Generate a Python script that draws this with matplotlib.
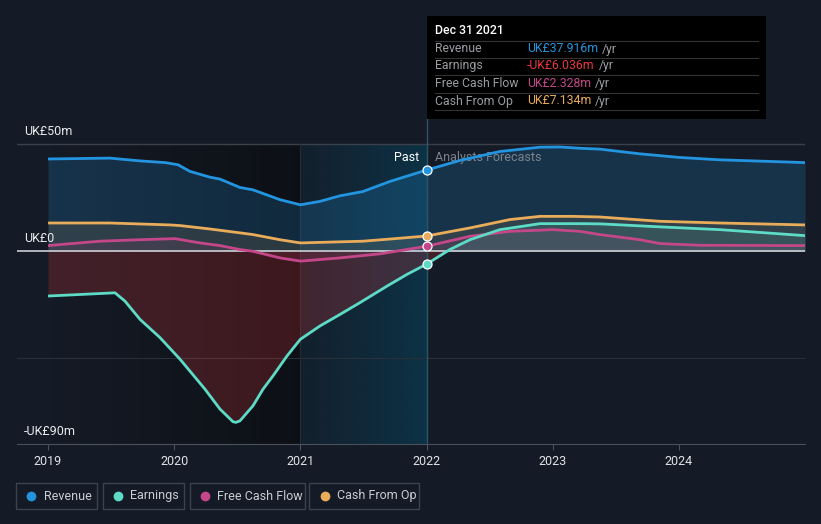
"""Revenue, earnings and cash flow history with analyst forecasts."""

import matplotlib
matplotlib.use('Agg')
from matplotlib import pyplot
from matplotlib.patches import Rectangle
from matplotlib.lines import Line2D
import numpy

# Values (GBP millions).
rev_years = [2019.0, 2019.49, 2019.73, 2019.93, 2020.03, 2020.125, 2020.284, 2020.363,
             2020.521, 2020.624, 2020.838, 2021.0, 2021.155, 2021.314, 2021.496, 2021.71,
             2022.0, 2022.265, 2022.582, 2022.899, 2023.057, 2023.216, 2023.374, 2023.532,
             2023.691, 2024.008, 2024.325, 2024.642, 2025.0]
revenue = [43.1, 43.5, 42.2, 41.4, 40.4, 37.3, 34.6, 33.7,
           29.8, 28.7, 24.1, 21.7, 23.3, 25.9, 27.9, 32.6,
           37.916, 42.4, 46.6, 48.6, 48.7, 48.1, 47.7, 46.6,
           45.5, 43.8, 42.7, 42.1, 41.4]

earn_years = [2019.0, 2019.531, 2019.61, 2019.729, 2019.887, 2020.046, 2020.244, 2020.363,
              2020.466, 2020.49, 2020.521, 2020.624, 2020.704, 2020.783, 2020.894, 2021.0,
              2021.155, 2021.314, 2021.472, 2021.686, 2021.845, 2022.0, 2022.185, 2022.344,
              2022.582, 2022.899, 2023.216, 2023.374, 2023.85, 2024.325, 2024.642, 2025.0]
earnings = [-20.9, -19.4, -23.3, -31.8, -40.3, -50.4, -64.4, -73.7,
            -79.6, -79.9, -79.2, -72.2, -64.4, -58.2, -48.9, -41.1,
            -34.9, -29.5, -24.0, -16.3, -10.8, -6.036, 0.8, 5.4,
            10.1, 12.9, 12.9, 12.8, 11.4, 10.1, 8.8, 7.3]

fcf_years = [2019.0, 2019.41, 2019.729, 2020.006, 2020.204, 2020.363, 2020.521, 2020.624,
             2020.838, 2021.0, 2021.314, 2021.631, 2022.0, 2022.344, 2022.661, 2023.0,
             2023.216, 2023.374, 2023.691, 2023.85, 2024.166, 2025.0]
free_cash_flow = [2.65, 4.7, 5.4, 5.9, 3.9, 2.65, 0.8, 0.0,
                  -3.1, -4.6, -3.1, -1.2, 2.328, 7.0, 9.3, 10.1,
                  9.3, 7.8, 5.4, 3.6, 2.8, 2.65]

cfo_years = [2019.0, 2019.49, 2019.967, 2020.046, 2020.284, 2020.521, 2020.624, 2020.838,
             2021.0, 2021.496, 2021.75, 2022.0, 2022.344, 2022.661, 2022.899, 2023.16,
             2023.374, 2023.85, 2024.325, 2025.0]
cash_from_op = [13.2, 13.2, 12.3, 12.0, 10.4, 8.6, 7.8, 5.4,
                3.9, 4.7, 5.9, 7.134, 10.9, 14.8, 16.3, 16.3,
                16.0, 14.0, 13.2, 12.3]

year_ticks = [2019, 2020, 2021, 2022, 2023, 2024]
y_labels = ['UK£50m', 'UK£0', '-UK£90m']
series_names = ['Revenue', 'Earnings', 'Free Cash Flow', 'Cash From Op']
tooltip_values = ['UK£37.916m', '-UK£6.036m', 'UK£2.328m', 'UK£7.134m']

bg = '#151b26'
c_rev = '#2394df'
c_earn = '#5ddbc6'
c_fcf = '#c4478a'
c_cfo = '#e9ac5a'
c_neg = '#e8383d'

pyplot.rc('font', family=['Roboto', 'DejaVu Sans'], size=9)
W, H = 821, 524
fig = pyplot.figure(figsize=(W / 100, H / 100), dpi=100, facecolor=bg)


def px(x, y):
    """Convert pixel coordinates to figure fraction."""
    return x / W, 1 - y / H


ax = fig.add_axes([17 / W, 80 / H, 788 / W, 325.5 / H])
ax.set_facecolor(bg)
ax.set_xlim(2018.754, 2025.0)
ax.set_ylim(-90, 62)

# Background shading for the past periods.
dark = numpy.zeros((1, 64, 4))
dark[..., :3] = numpy.array([10, 12, 16]) / 255
dark[..., 3] = numpy.linspace(0.0, 0.75, 64)
ax.imshow(dark, extent=[2019, 2021, -90, 50], aspect='auto', zorder=0)
teal = numpy.zeros((1, 64, 4))
teal[..., :3] = numpy.array([10, 58, 80]) / 255
teal[..., 3] = numpy.linspace(0.15, 0.75, 64)
ax.imshow(teal, extent=[2021, 2022, -90, 50], aspect='auto', zorder=0)

# Grid lines.
ax.axhline(50, color='#3b414b', linewidth=1, zorder=1)
ax.axhline(-50, color='#2a303a', linewidth=0.8, zorder=1)
ax.axvline(2021, ymin=0, ymax=140 / 152, color='#262c36', linewidth=0.8, zorder=1)

# Area fills.
ax.fill_between(rev_years, 0, revenue, color=c_rev, alpha=0.2, linewidth=0, zorder=2)
ax.fill_between(cfo_years, 0, cash_from_op, color=c_cfo, alpha=0.12, linewidth=0, zorder=2)
ax.fill_between(fcf_years, 0, free_cash_flow, color=c_fcf, alpha=0.12, linewidth=0, zorder=2)
e = numpy.array(earnings)
ax.fill_between(earn_years, 0, e, where=e <= 0, interpolate=True,
                color=c_neg, alpha=0.22, linewidth=0, zorder=2)
ax.fill_between(earn_years, 0, e, where=e >= 0, interpolate=True,
                color=c_earn, alpha=0.12, linewidth=0, zorder=2)

ax.axhline(0, color='#d9dce0', linewidth=1.1, zorder=3)

# Lines.
lw = 2.0
for years, vals, c in [(rev_years, revenue, c_rev), (cfo_years, cash_from_op, c_cfo),
                       (fcf_years, free_cash_flow, c_fcf), (earn_years, earnings, c_earn)]:
    ax.plot(years, vals, color=c, linewidth=lw, zorder=4, solid_joinstyle='round',
            solid_capstyle='butt')

# Divider between past and forecast.
ax.axvline(2022, color='#2d5566', linewidth=1, zorder=3)
for years, vals, c in [(rev_years, revenue, c_rev), (earn_years, earnings, c_earn),
                       (fcf_years, free_cash_flow, c_fcf), (cfo_years, cash_from_op, c_cfo)]:
    i = years.index(2022.0)
    ax.plot(years[i], vals[i], 'o', color=c, markersize=6.5, markeredgecolor='white',
            markeredgewidth=0.9, zorder=5)

ax.text(2021.94, 44.0, 'Past', color='white', ha='right', va='center', fontsize=9)
ax.text(2022.07, 44.0, 'Analysts Forecasts', color='#7d838c', ha='left', va='center',
        fontsize=9)

# Axis styling.
for side in ['top', 'right', 'left']:
    ax.spines[side].set_visible(False)
ax.spines['bottom'].set_color('#4b515b')
ax.set_yticks([])
ax.set_xticks(year_ticks)
ax.set_xticklabels([str(y) for y in year_ticks])
ax.tick_params(axis='x', colors='#4b515b', labelcolor='#e0e3e7', length=4, pad=4,
               labelsize=9)

trans = ax.get_yaxis_transform()
for label, yv in zip(y_labels, [55.7, 5.9, -84.0]):
    ax.text(0.009, yv, label, transform=trans, color='#e8eaed', va='center',
            ha='left', fontsize=9)

# Tooltip box.
x0, y0 = px(427, 119)
x1, y1 = px(766, 16)
fig.add_artist(Rectangle((x0, y0), x1 - x0, y1 - y0, transform=fig.transFigure,
                         facecolor='black', edgecolor='none', zorder=10))
fig.text(*px(435, 31), 'Dec 31 2021', color='white', va='center', fontsize=8.8,
         fontweight='medium', zorder=11)
row_y = [49, 66, 84, 101]
for yy in [41, 58, 75, 93, 110]:
    fig.add_artist(Line2D([px(435, 0)[0], px(758, 0)[0]], [px(0, yy)[1]] * 2,
                          transform=fig.transFigure, color='#333333', linewidth=0.8,
                          zorder=11))
fig.canvas.draw()
renderer = fig.canvas.get_renderer()
for name, val, c, yy in zip(series_names, tooltip_values,
                            [c_rev, c_neg, c_fcf, c_cfo], row_y):
    fig.text(*px(435, yy), name, color='#9a9da2', va='center', fontsize=8.8, zorder=11)
    t = fig.text(*px(527, yy), val, color=c, va='center', fontsize=8.8, zorder=11)
    bb = t.get_window_extent(renderer)
    fig.text(bb.x1 / W + 4 / W, px(0, yy)[1], '/yr', color='#9a9da2', va='center',
             fontsize=8.8, zorder=11)

# Legend boxes.
boxes = [(16, 97, 31, 44), (103, 184, 118, 130), (190, 305, 205, 217), (309, 419, 325, 337)]
for (bx0, bx1, dot_x, text_x), name, c in zip(boxes, series_names,
                                              [c_rev, c_earn, c_fcf, c_cfo]):
    lx, ly = px(bx0, 509)
    rx, ry = px(bx1, 483)
    fig.add_artist(Rectangle((lx, ly), rx - lx, ry - ly, transform=fig.transFigure,
                             facecolor='none', edgecolor='#3d434d', linewidth=1))
    fig.add_artist(Line2D([px(dot_x, 0)[0]], [px(0, 496)[1]], marker='o', markersize=6,
                          color=c, linestyle='none', transform=fig.transFigure))
    fig.text(*px(text_x, 496), name, color='#c9ccd1', va='center', fontsize=9)

fig.savefig('out.png', dpi=100, facecolor=bg)
